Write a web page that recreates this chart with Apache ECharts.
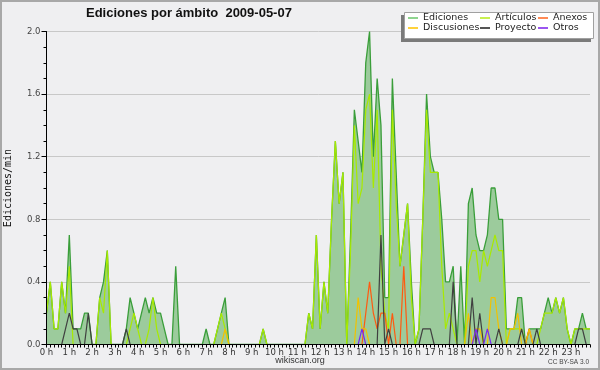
<!DOCTYPE html>
<html><head><meta charset="utf-8">
<script src="https://cdn.jsdelivr.net/npm/echarts@6/dist/echarts.min.js"></script>
<style>html,body{margin:0;padding:0;background:#efeff1}#c{width:600px;height:370px}</style>
</head><body><div id="c"></div>
<script>
const hourLabels = ['0 h','1 h','2 h','3 h','4 h','5 h','6 h','7 h','8 h','9 h','10 h','11 h',
  '12 h','13 h','14 h','15 h','16 h','17 h','18 h','19 h','20 h','21 h','22 h','23 h'];
const categories = [];
for (let h = 0; h < 24; h++) for (let m = 0; m < 60; m += 10) categories.push(h + ':' + (m < 10 ? '0' : '') + m);

const seriesNames = ['Ediciones','Artículos','Anexos','Discusiones','Proyecto','Otros'];

const ediciones = [
  0.2,0.4,0.1,0.1,0.4,0.2,0.7,0.1,0.1,0.1,0.2,0.2,
  0,0,0.3,0.4,0.6,0,0,0,0,0.1,0.3,0.2,
  0.1,0.2,0.3,0.2,0.3,0.2,0.2,0.1,0,0,0.5,0,
  0,0,0,0,0,0,0.1,0,0,0.1,0.2,0.3,
  0,0,0,0,0,0,0,0,0,0.1,0,0,
  0,0,0,0,0,0,0,0,0,0.2,0.1,0.7,
  0.1,0.4,0.2,0.8,1.3,0.9,1.1,0,0.7,1.5,1.3,1.1,
  1.8,2.0,1.2,1.7,1.4,0.3,0.3,1.7,1.1,0.5,0.7,0.9,
  0.4,0,0.1,0.8,1.6,1.2,1.1,1.1,0.8,0.4,0.4,0.5,
  0,0.5,0,0.9,1.0,0.7,0.6,0.6,0.7,1.0,1.0,0.8,
  0.8,0.1,0.1,0.1,0.3,0.3,0,0.1,0.1,0.1,0.1,0.2,
  0.3,0.2,0.3,0.2,0.3,0.1,0,0.1,0.1,0.2,0.1,0.1
];
const articulos = [
  0.2,0.4,0.1,0.1,0.4,0.2,0.5,0,0,0,0,0,
  0,0,0.3,0.2,0.6,0,0,0,0,0,0.1,0.2,
  0.1,0,0,0.1,0.3,0.1,0,0,0,0,0,0,
  0,0,0,0,0,0,0,0,0,0.1,0.2,0.1,
  0,0,0,0,0,0,0,0,0,0.1,0,0,
  0,0,0,0,0,0,0,0,0,0.2,0.1,0.7,
  0.1,0.4,0.2,0.8,1.3,0.9,1.1,0,0.6,1.4,0.9,1.0,
  1.5,1.6,1.0,1.5,0.5,0.2,0.1,1.5,0.9,0.5,0.7,0.9,
  0.3,0,0.1,0.8,1.5,1.1,1.1,1.1,0.5,0.1,0.2,0.1,
  0,0,0,0.5,0.6,0.6,0.4,0.6,0.5,0.6,0.7,0.6,
  0.6,0,0.1,0.1,0.1,0.1,0,0,0,0,0.1,0.2,
  0.2,0.2,0.3,0.2,0.3,0.1,0,0.1,0.1,0.1,0.1,0.1
];
const anexos = [
  0,0,0,0,0,0,0,0,0,0,0,0,
  0,0,0,0,0,0,0,0,0,0,0,0,
  0,0,0,0,0,0,0,0,0,0,0,0,
  0,0,0,0,0,0,0,0,0,0,0,0,
  0,0,0,0,0,0,0,0,0,0,0,0,
  0,0,0,0,0,0,0,0,0,0,0,0,
  0,0,0,0,0,0,0,0,0,0,0,0,
  0.2,0.4,0.2,0.1,0.2,0.2,0,0.2,0,0,0.5,0,
  0,0,0,0,0,0,0,0,0,0,0,0,
  0,0,0,0,0,0,0,0,0,0,0,0,
  0,0,0,0,0,0,0,0.1,0,0,0,0,
  0,0,0,0,0,0,0,0,0,0,0,0
];
const discusiones = [
  0,0,0,0,0,0,0,0,0,0,0,0,
  0,0,0,0,0,0,0,0,0,0,0,0,
  0,0,0,0,0,0,0,0,0,0,0,0,
  0,0,0,0,0,0,0,0,0,0,0,0.1,
  0,0,0,0,0,0,0,0,0,0,0,0,
  0,0,0,0,0,0,0,0,0,0,0,0,
  0,0,0,0,0,0,0,0,0,0,0.3,0.1,
  0.1,0,0,0,0,0,0,0,0,0,0,0,
  0,0,0,0,0,0,0,0,0,0,0,0,
  0,0,0,0.2,0,0.1,0.1,0,0,0.3,0.3,0.1,
  0,0,0.1,0.1,0.2,0,0,0.1,0,0,0,0,
  0,0,0,0,0,0,0,0,0,0,0,0
];
const proyecto = [
  0,0,0,0,0,0.1,0.2,0.1,0.1,0,0,0.2,
  0,0,0,0,0,0,0,0,0,0.1,0,0,
  0,0,0,0,0,0,0,0,0,0,0,0,
  0,0,0,0,0,0,0,0,0,0,0,0,
  0,0,0,0,0,0,0,0,0,0,0,0,
  0,0,0,0,0,0,0,0,0,0,0,0,
  0,0,0,0,0,0,0,0,0,0,0,0,
  0,0,0,0,0.7,0,0.1,0,0,0,0,0,
  0,0,0,0.1,0.1,0.1,0,0,0,0,0,0.4,
  0,0,0,0,0.3,0,0.2,0,0,0,0,0.1,
  0,0,0,0,0,0.1,0,0,0,0.1,0,0,
  0,0,0,0,0,0,0,0,0.1,0.1,0,0
];
const otros = [
  0,0,0,0,0,0,0,0,0,0,0,0,
  0,0,0,0,0,0,0,0,0,0,0,0,
  0,0,0,0,0,0,0,0,0,0,0,0,
  0,0,0,0,0,0,0,0,0,0,0,0,
  0,0,0,0,0,0,0,0,0,0,0,0,
  0,0,0,0,0,0,0,0,0,0,0,0,
  0,0,0,0,0,0,0,0,0,0,0,0.1,
  0,0,0,0,0,0,0,0,0,0,0,0,
  0,0,0,0,0,0,0,0,0,0,0,0,
  0,0,0,0,0,0.1,0,0,0.1,0,0,0,
  0,0,0,0,0,0,0,0,0,0,0,0,
  0,0,0,0,0,0,0,0,0,0,0,0
];
const seriesData = [ediciones, articulos, anexos, discusiones, proyecto, otros];
const lineColors = ['#3a9e3a','#a8ea00','#ff5a10','#f2c200','#404040','#7a2af0'];
const legendColors = ['#8fd48f','#c8f050','#ff8a55','#ffd23c','#555555','#9a55f0'];
const legendPos = [[408,13],[480,13],[538,13],[408,23],[480,23],[538,23]];

const SANS = '"DejaVu Sans", Verdana, sans-serif';
const chart = echarts.init(document.getElementById('c'), null, {renderer: 'canvas'});

const series = seriesNames.map((name, k) => ({
  name: name,
  type: 'line',
  data: seriesData[k],
  yAxisIndex: 0,
  symbol: 'none',
  showSymbol: false,
  smooth: false,
  animation: false,
  lineStyle: {color: lineColors[k], width: k === 0 ? 1.3 : 1.2},
  itemStyle: {color: lineColors[k]},
  areaStyle: k === 0 ? {color: '#9ccb9c', opacity: 1} : undefined,
  z: 2 + k * 0.01
}));

const legends = seriesNames.map((name, k) => ({
  show: true,
  z: 30,
  left: legendPos[k][0],
  top: legendPos[k][1],
  padding: 0,
  itemGap: 0,
  itemWidth: 10,
  itemHeight: 2,
  icon: 'rect',
  selectedMode: false,
  data: [{name: name, itemStyle: {color: legendColors[k]}}],
  textStyle: {fontFamily: SANS, fontSize: 9.5, color: '#222', padding: [0,0,0,0]}
}));

chart.setOption({
  backgroundColor: '#efeff1',
  animation: false,
  title: {
    text: 'Ediciones por ámbito  2009-05-07',
    left: 86, top: 7, padding: 0,
    textStyle: {fontFamily: '"Liberation Sans", Arial, sans-serif', fontWeight: 'bold', fontSize: 13, color: '#111'}
  },
  legend: legends,
  grid: {left: 46.5, right: 10, top: 31.5, bottom: 25.5, containLabel: false, outerBoundsMode: 'none'},
  xAxis: {
    type: 'category',
    data: categories,
    boundaryGap: false,
    z: 5,
    axisLine: {show: true, lineStyle: {color: '#000', width: 1}},
    axisTick: {show: true, interval: 0, length: 3, lineStyle: {color: '#000'}},
    axisLabel: {
      interval: 5, margin: 4, fontFamily: SANS, fontSize: 8.5, color: '#333',
      formatter: (v, i) => hourLabels[Math.round(i / 6)]
    },
    splitLine: {show: false}
  },
  yAxis: [
    {
      type: 'value', min: 0, max: 2, interval: 0.4, z: 0,
      axisLine: {show: false}, axisTick: {show: false}, axisLabel: {show: false},
      splitLine: {show: true, lineStyle: {color: '#c8c8c8', width: 1}}
    },
    {
      type: 'value', min: 0, max: 2, interval: 0.4, z: 5, position: 'left',
      name: 'Ediciones/min', nameLocation: 'middle', nameGap: 33, nameRotate: 90,
      nameTextStyle: {fontFamily: '"DejaVu Sans Mono", monospace', fontSize: 10, color: '#111'},
      axisLine: {show: true, lineStyle: {color: '#000', width: 1}},
      axisTick: {show: true, length: 5, lineStyle: {color: '#000'}},
      minorTick: {show: true, splitNumber: 4, length: 3, lineStyle: {color: '#000'}},
      axisLabel: {margin: 6, fontFamily: SANS, fontSize: 8.5, color: '#444', formatter: v => v.toFixed(1)},
      splitLine: {show: false}
    }
  ],
  series: series,
  graphic: [
    {type: 'rect', z: 1, silent: true, shape: {x: 1, y: 1, width: 598, height: 368},
      style: {fill: 'none', stroke: '#a8a8a8', lineWidth: 2}},
    {type: 'rect', z: 3, silent: true, shape: {x: 401, y: 15, width: 190, height: 27},
      style: {fill: '#7a7a7a'}},
    {type: 'rect', z: 4, silent: true, shape: {x: 404.5, y: 12.5, width: 189, height: 26},
      style: {fill: '#ffffff', stroke: '#a0a0a0', lineWidth: 1}},
    {type: 'text', z: 5, silent: true,
      style: {x: 300, y: 361, text: 'wikiscan.org', textAlign: 'center', textVerticalAlign: 'middle',
        font: '9px "Liberation Sans", Arial, sans-serif', fill: '#333'}},
    {type: 'text', z: 5, silent: true,
      style: {x: 589, y: 362, text: 'CC BY-SA 3.0', textAlign: 'right', textVerticalAlign: 'middle',
        font: '6.5px "Liberation Sans", Arial, sans-serif', fill: '#444'}}
  ]
});
</script>
</body></html>
